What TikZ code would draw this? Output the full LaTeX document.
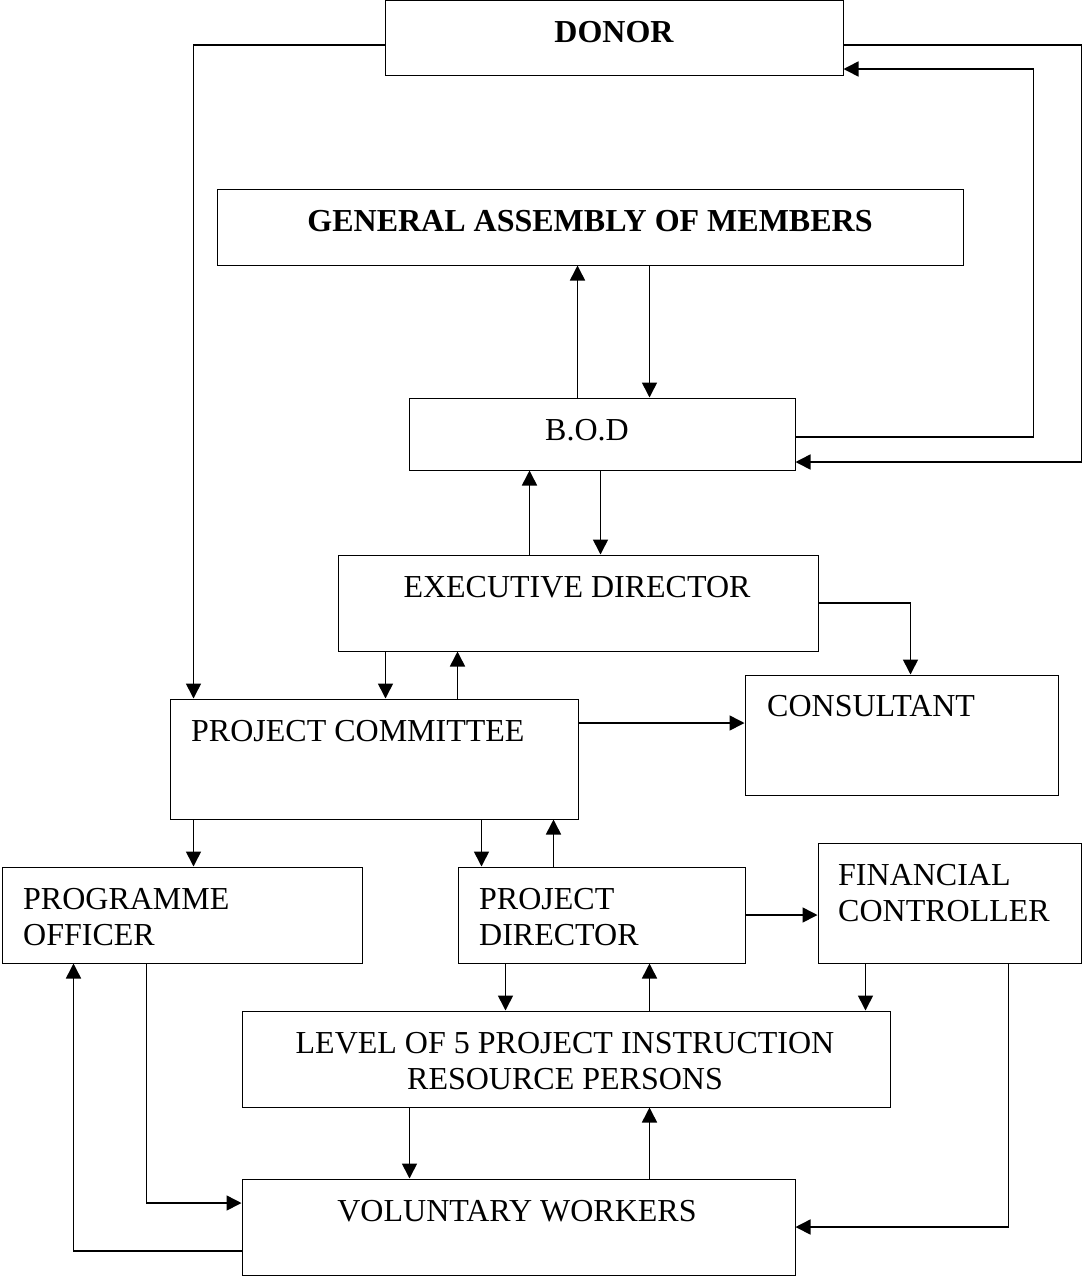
\documentclass[tikz,border=0pt]{standalone}
\usepackage{fontspec}
\setmainfont{Liberation Serif}
\usetikzlibrary{arrows.meta}
\begin{document}
\begin{tikzpicture}[x=1pt, y=-1pt,
    box/.style={draw, line width=1pt, inner sep=0pt},
    txt/.style={inner sep=0pt, font=\fontsize{32}{36}\selectfont},
    arr/.style={line width=1.6pt, -{Triangle[length=15pt, width=15pt]}}]
  \useasboundingbox (0, 0) rectangle (1083, 1278);
  % boxes
  \node [box, minimum width=458, minimum height=75] (donor) at (614, 37.5) {};
  \node [box, minimum width=746, minimum height=76] (ga) at (590, 227) {};
  \node [box, minimum width=386, minimum height=72] (bod) at (602, 434) {};
  \node [box, minimum width=480, minimum height=96] (ed) at (578, 603) {};
  \node [box, minimum width=313, minimum height=120] (cons) at (901.5, 735) {};
  \node [box, minimum width=408, minimum height=120] (pc) at (374, 759) {};
  \node [box, minimum width=360, minimum height=96] (po) at (182, 915) {};
  \node [box, minimum width=287, minimum height=96] (pd) at (601.5, 915) {};
  \node [box, minimum width=263, minimum height=120] (fc) at (949.5, 903) {};
  \node [box, minimum width=648, minimum height=96] (lev) at (566, 1059) {};
  \node [box, minimum width=553, minimum height=96] (vw) at (518.5, 1227) {};
  % texts
  \node [txt, font=\fontsize{32}{36}\selectfont\bfseries] (donortxt) at (614, 32) {DONOR};
  \node [txt, font=\fontsize{32}{36}\selectfont\bfseries] (gatxt) at (590, 221) {GENERAL ASSEMBLY OF MEMBERS};
  \node [txt] (bodtxt) at (587, 430) {B.O.D};
  \node [txt] (edtxt) at (577, 587) {EXECUTIVE DIRECTOR};
  \node [txt, anchor=west] (constxt) at (767, 706) {CONSULTANT};
  \node [txt, anchor=west] (pctxt) at (191, 731) {PROJECT COMMITTEE};
  \node [txt, anchor=west, align=left] (potxt) at (23, 917) {PROGRAMME\\OFFICER};
  \node [txt, anchor=west, align=left] (pdtxt) at (479, 917) {PROJECT\\DIRECTOR};
  \node [txt, anchor=west, align=left] (fctxt) at (838, 893) {FINANCIAL\\CONTROLLER};
  \node [txt, align=center] (levtxt) at (565, 1061) {LEVEL OF 5 PROJECT INSTRUCTION\\RESOURCE PERSONS};
  \node [txt] (vwtxt) at (517, 1211) {VOLUNTARY WORKERS};
  % donor loops
  \draw [arr] ([yshift=-7.5pt]donor.west) -| ([xshift=24pt]pc.north west);
  \draw [arr] ([yshift=-7.5pt]donor.east) -- ([yshift=-7.5pt]donor.east -| fc.east) |- ([yshift=-28pt]bod.east);
  \draw [arr] ([yshift=-3pt]bod.east) -- ++(238, 0) |- ([yshift=-31.5pt]donor.east);
  % assembly and board
  \draw [arr] ([xshift=169pt]bod.north west) -- ([xshift=361pt]ga.south west);
  \draw [arr] ([xshift=433pt]ga.south west) -- ([xshift=241pt]bod.north west);
  \draw [arr] ([xshift=192pt]ed.north west) -- ([xshift=121pt]bod.south west);
  \draw [arr] ([xshift=192pt]bod.south west) -- ([xshift=263pt]ed.north west);
  \draw [arr] (ed.east) -| ([xshift=166pt]cons.north west);
  % committee
  \draw [arr] ([xshift=48pt]ed.south west) -- ([xshift=216pt]pc.north west);
  \draw [arr] ([xshift=288pt]pc.north west) -- ([xshift=120pt]ed.south west);
  \draw [arr] ([yshift=36pt]pc.east) -- ([yshift=36pt]pc.east -| cons.west);
  \draw [arr] ([xshift=24pt]pc.south west) -- ([xshift=192pt]po.north west);
  \draw [arr] ([xshift=312pt]pc.south west) -- ([xshift=24pt]pd.north west);
  \draw [arr] ([xshift=96pt]pd.north west) -- ([xshift=384pt]pc.south west);
  \draw [arr] (pd.east) -- (pd.east -| fc.west);
  % level and workers
  \draw [arr] ([xshift=48pt]pd.south west) -- ([xshift=264pt]lev.north west);
  \draw [arr] ([xshift=408pt]lev.north west) -- ([xshift=192pt]pd.south west);
  \draw [arr] ([xshift=48pt]fc.south west) -- ([xshift=624pt]lev.north west);
  \draw [arr] ([xshift=191pt]fc.south west) |- (vw.east);
  \draw [arr] ([xshift=168pt]lev.south west) -- ([xshift=168pt]vw.north west);
  \draw [arr] ([xshift=408pt]vw.north west) -- ([xshift=408pt]lev.south west);
  \draw [arr] ([xshift=145pt]po.south west) |- ([yshift=24pt]vw.west);
  \draw [arr] ([yshift=-24pt]vw.west) -| ([xshift=72pt]po.south west);
\end{tikzpicture}
\end{document}
